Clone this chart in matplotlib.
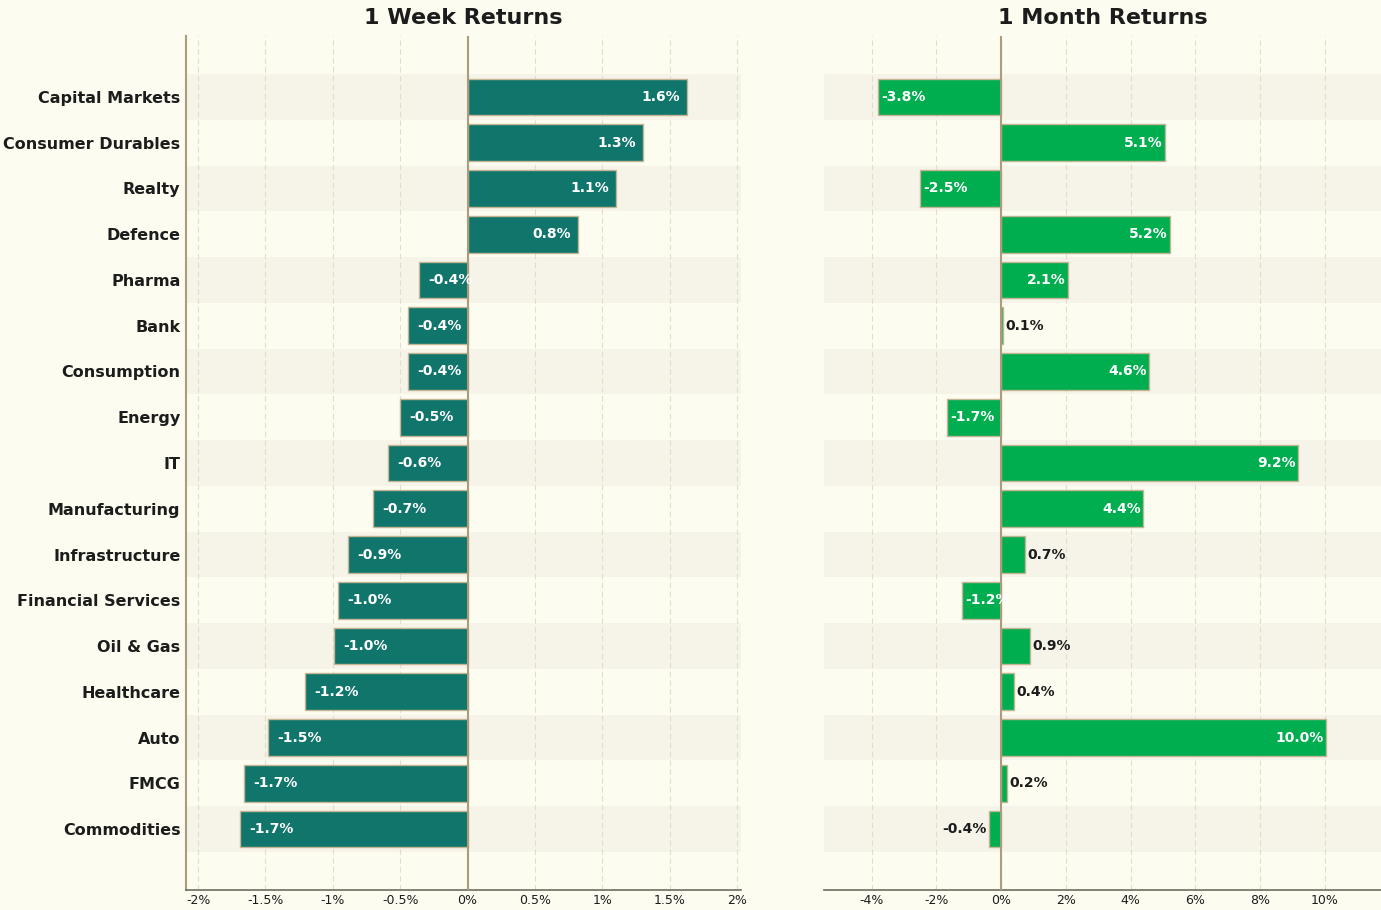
import matplotlib
matplotlib.use("Agg")
import matplotlib.pyplot as plt
import numpy as np

# sector names, top to bottom
sectors = ["Capital Markets", "Consumer Durables", "Realty", "Defence", "Pharma",
           "Bank", "Consumption", "Energy", "IT", "Manufacturing", "Infrastructure",
           "Financial Services", "Oil & Gas", "Healthcare", "Auto", "FMCG", "Commodities"]

# returns in %
week_ret = [1.63, 1.30, 1.10, 0.82, -0.36, -0.44, -0.44, -0.50, -0.59, -0.70,
            -0.89, -0.96, -0.99, -1.21, -1.48, -1.66, -1.69]
month_ret = [-3.80, 5.06, -2.50, 5.22, 2.07, 0.06, 4.57, -1.66, 9.17, 4.38,
             0.74, -1.20, 0.90, 0.40, 10.03, 0.19, -0.37]

week_ticks = [-2, -1.5, -1, -0.5, 0, 0.5, 1, 1.5, 2]
month_ticks = [-4, -2, 0, 2, 4, 6, 8, 10]

BG = "#fcfcf0"
BAND = "#f6f4e9"
TAN = "#ab9c7c"
GRID = "#e2dec9"
DARK = "#1c1c1c"

fig = plt.figure(figsize=(13.81, 9.10), dpi=100, facecolor=BG)
ax1 = fig.add_axes([186 / 1381, 20 / 910, 555 / 1381, 854 / 910])
ax2 = fig.add_axes([824 / 1381, 20 / 910, 557 / 1381, 854 / 910])


def draw_panel(ax, values, color, ticks, xlim, pad, title, show_labels):
    n = len(values)
    y = np.arange(n)
    ax.set_facecolor(BG)
    # alternating row bands
    for i in range(0, n, 2):
        ax.axhspan(i - 0.5, i + 0.5, color=BAND, zorder=0, lw=0)
    ax.set_xticks(ticks)
    ax.set_xticklabels([f"{t:g}%" for t in ticks], fontsize=9, color=DARK)
    ax.grid(axis="x", color=GRID, linestyle=(0, (5, 3)), linewidth=0.8, zorder=0.5)
    ax.set_axisbelow(True)
    ax.barh(y, values, height=0.8, color=color, edgecolor="#c4b594", linewidth=1, zorder=2)
    ax.axvline(0, color=TAN, linewidth=1.5, zorder=3)
    ax.set_xlim(*xlim)
    ax.set_ylim(n - 1 + 1.333, -1.333)

    span = max(abs(v) for v in values)
    for yi, v in zip(y, values):
        txt = f"{v:.1f}%"
        if abs(v) > 0.1 * span:
            if v >= 0:
                ax.text(v - pad, yi, txt, ha="right", va="center", color="white",
                        fontsize=10, fontweight="bold", zorder=4)
            else:
                ax.text(v + pad * 1.4, yi, txt, ha="left", va="center", color="white",
                        fontsize=10, fontweight="bold", zorder=4)
        else:
            if v >= 0:
                ax.text(v + pad, yi, txt, ha="left", va="center", color=DARK,
                        fontsize=10, fontweight="bold", zorder=4)
            else:
                ax.text(v - pad, yi, txt, ha="right", va="center", color=DARK,
                        fontsize=10, fontweight="bold", zorder=4)

    ax.set_yticks(y)
    if show_labels:
        ax.set_yticklabels(sectors, fontsize=11.5, fontweight="bold", color=DARK)
    else:
        ax.set_yticklabels([])
    ax.tick_params(axis="both", length=0)
    ax.tick_params(axis="y", pad=4)
    ax.tick_params(axis="x", pad=3)
    ax.set_title(title, fontsize=16, fontweight="bold", color=DARK, pad=9)

    for s in ["top", "right"]:
        ax.spines[s].set_visible(False)
    ax.spines["bottom"].set_color("#6e6c5e")
    ax.spines["bottom"].set_linewidth(1.2)
    if show_labels:
        ax.spines["left"].set_color(TAN)
        ax.spines["left"].set_linewidth(1.5)
    else:
        ax.spines["left"].set_visible(False)


draw_panel(ax1, week_ret, "#10756b", week_ticks, (-2.09, 2.03), 0.05, "1 Week Returns", True)
draw_panel(ax2, month_ret, "#00ad4f", month_ticks, (-5.47, 11.73), 0.07, "1 Month Returns", False)

fig.savefig("out.png", dpi=100, facecolor=BG)
